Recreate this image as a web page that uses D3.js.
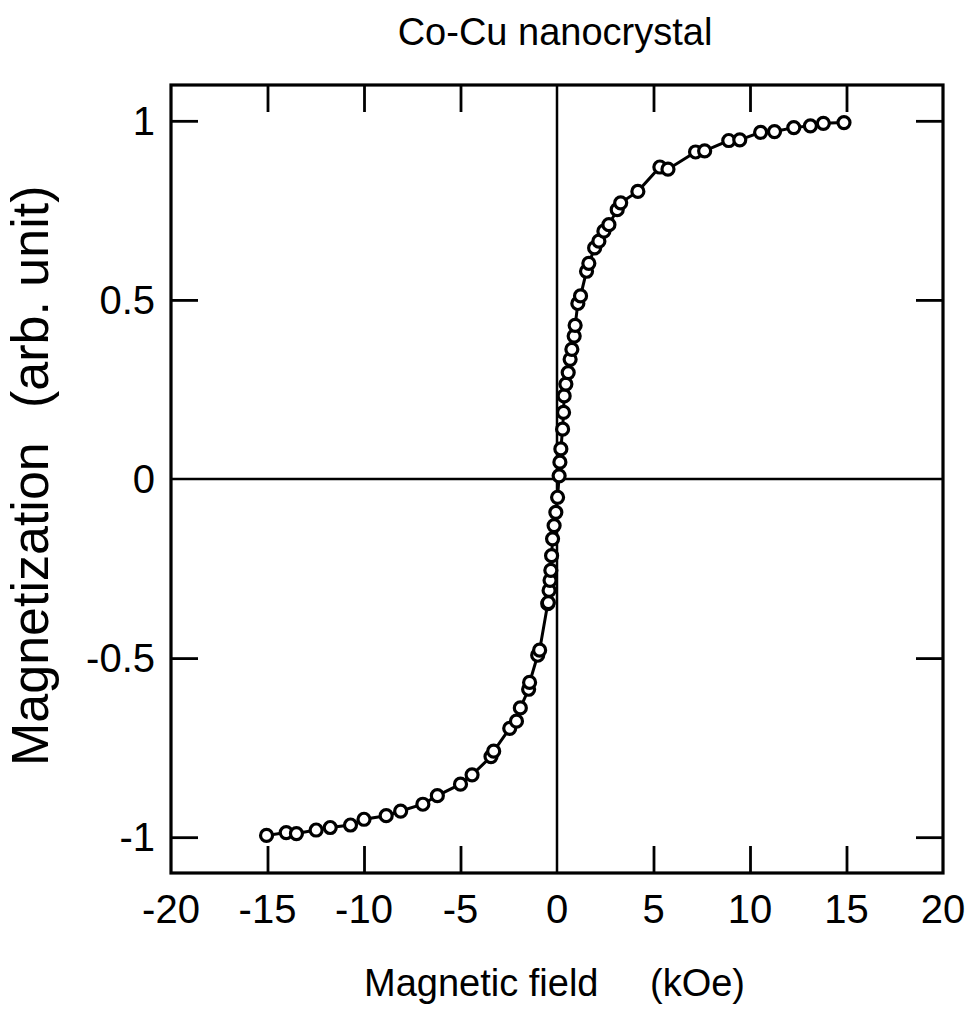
<!DOCTYPE html>
<html>
<head>
<meta charset="utf-8">
<script src="https://cdn.jsdelivr.net/npm/d3@7"></script>
<style>
  html, body { margin: 0; padding: 0; background: #fff; }
  text { font-family: "Liberation Sans", Arial, Helvetica, sans-serif; fill: #000; }
</style>
</head>
<body>
<svg id="chart" width="967" height="1011"></svg>
<script>
// Magnetic field (kOe)
const fieldValues = [
  -15.05, -14.03, -13.5, -12.48, -11.75, -10.7, -10.0, -8.85, -8.1, -6.95,
  -6.2, -5.0, -4.4, -3.42, -3.28, -2.45, -2.1, -1.9, -1.47, -1.42,
  -1.0, -0.9, -0.48, -0.45, -0.41, -0.36, -0.32, -0.28, -0.23, -0.15,
  -0.06, 0.03, 0.11, 0.15, 0.2, 0.29, 0.34, 0.37, 0.46, 0.58,
  0.68, 0.77, 0.89, 0.94, 1.08, 1.22, 1.53, 1.65, 1.95, 2.17,
  2.43, 2.69, 3.12, 3.3, 4.19, 5.33, 5.75, 7.18, 7.65, 8.9,
  9.47, 10.55, 11.27, 12.27, 13.13, 13.8, 14.87
];
// Magnetization (arb. unit)
const magnetValues = [
  -0.995, -0.987, -0.990, -0.980, -0.973, -0.966, -0.950, -0.940, -0.927, -0.908,
  -0.884, -0.852, -0.826, -0.775, -0.760, -0.696, -0.676, -0.639, -0.587, -0.568,
  -0.492, -0.478, -0.348, -0.345, -0.311, -0.283, -0.255, -0.214, -0.167, -0.130,
  -0.093, -0.051, 0.009, 0.047, 0.084, 0.139, 0.186, 0.232, 0.265, 0.297,
  0.334, 0.362, 0.399, 0.429, 0.490, 0.511, 0.580, 0.602, 0.645, 0.664,
  0.692, 0.710, 0.752, 0.771, 0.803, 0.871, 0.865, 0.913, 0.916, 0.945,
  0.947, 0.968, 0.970, 0.981, 0.986, 0.993, 0.995
];
const xTickValues = [-20, -15, -10, -5, 0, 5, 10, 15, 20];
const yTickValues = [-1, -0.5, 0, 0.5, 1];
const titleText = "Co-Cu nanocrystal";
const xLabelParts = ["Magnetic field", "(kOe)"];
const yLabelParts = ["Magnetization", "(arb. unit)"];

const data = fieldValues.map((f, i) => ({ x: f, y: magnetValues[i] }));

const svg = d3.select("#chart");
const L = 171, R = 943, T = 85, B = 873;
const x = d3.scaleLinear().domain([-20, 20]).range([L, R]);
const y = d3.scaleLinear().domain([-1.1, 1.1]).range([B, T]);
const tickLen = 27;

// zero lines
svg.append("line").attr("x1", x(0)).attr("x2", x(0)).attr("y1", T).attr("y2", B)
  .attr("stroke", "#000").attr("stroke-width", 2.5);
svg.append("line").attr("x1", L).attr("x2", R).attr("y1", y(0)).attr("y2", y(0))
  .attr("stroke", "#000").attr("stroke-width", 2.5);

// inward ticks via axes
const inner = xTickValues.filter(v => v > -20 && v < 20 && v !== 0);
const innerY = yTickValues.filter(v => v !== 0);
const tickStyle = g => {
  g.select(".domain").remove();
  g.selectAll(".tick line").attr("stroke", "#000").attr("stroke-width", 2.8);
  g.selectAll(".tick text").remove();
};
svg.append("g").attr("transform", `translate(0,${B})`)
  .call(d3.axisTop(x).tickValues(inner).tickSize(tickLen)).call(tickStyle);
svg.append("g").attr("transform", `translate(0,${T})`)
  .call(d3.axisBottom(x).tickValues(inner).tickSize(tickLen)).call(tickStyle);
svg.append("g").attr("transform", `translate(${L},0)`)
  .call(d3.axisRight(y).tickValues(innerY).tickSize(tickLen)).call(tickStyle);
svg.append("g").attr("transform", `translate(${R},0)`)
  .call(d3.axisLeft(y).tickValues(innerY).tickSize(tickLen)).call(tickStyle);

// frame
svg.append("rect").attr("x", L).attr("y", T).attr("width", R - L).attr("height", B - T)
  .attr("fill", "none").attr("stroke", "#000").attr("stroke-width", 3.2);

// tick labels
svg.append("g").selectAll("text").data(xTickValues).join("text")
  .attr("x", d => x(d)).attr("y", 923)
  .attr("text-anchor", "middle").attr("font-size", 40)
  .text(d => String(d));
svg.append("g").selectAll("text").data(yTickValues).join("text")
  .attr("x", 155).attr("y", d => y(d) + 14)
  .attr("text-anchor", "end").attr("font-size", 40)
  .text(d => String(d));

// line + markers
const line = d3.line().x(d => x(d.x)).y(d => y(d.y));
svg.append("path").datum(data).attr("d", line)
  .attr("fill", "none").attr("stroke", "#000").attr("stroke-width", 3);
svg.append("g").selectAll("circle").data(data).join("circle")
  .attr("cx", d => x(d.x)).attr("cy", d => y(d.y)).attr("r", 6)
  .attr("fill", "#fff").attr("stroke", "#000").attr("stroke-width", 3.2);

// title
svg.append("text").attr("x", 555).attr("y", 45).attr("text-anchor", "middle")
  .attr("font-size", 38).text(titleText);

// x label
svg.append("text").attr("x", 364).attr("y", 996).attr("font-size", 38).text(xLabelParts[0]);
svg.append("text").attr("x", 650).attr("y", 996).attr("font-size", 38).text(xLabelParts[1]);

// y label
svg.append("text").attr("transform", "translate(48,766) rotate(-90)")
  .attr("font-size", 52).text(yLabelParts[0]);
svg.append("text").attr("transform", "translate(48,408) rotate(-90)")
  .attr("font-size", 52).text(yLabelParts[1]);
</script>
</body>
</html>
